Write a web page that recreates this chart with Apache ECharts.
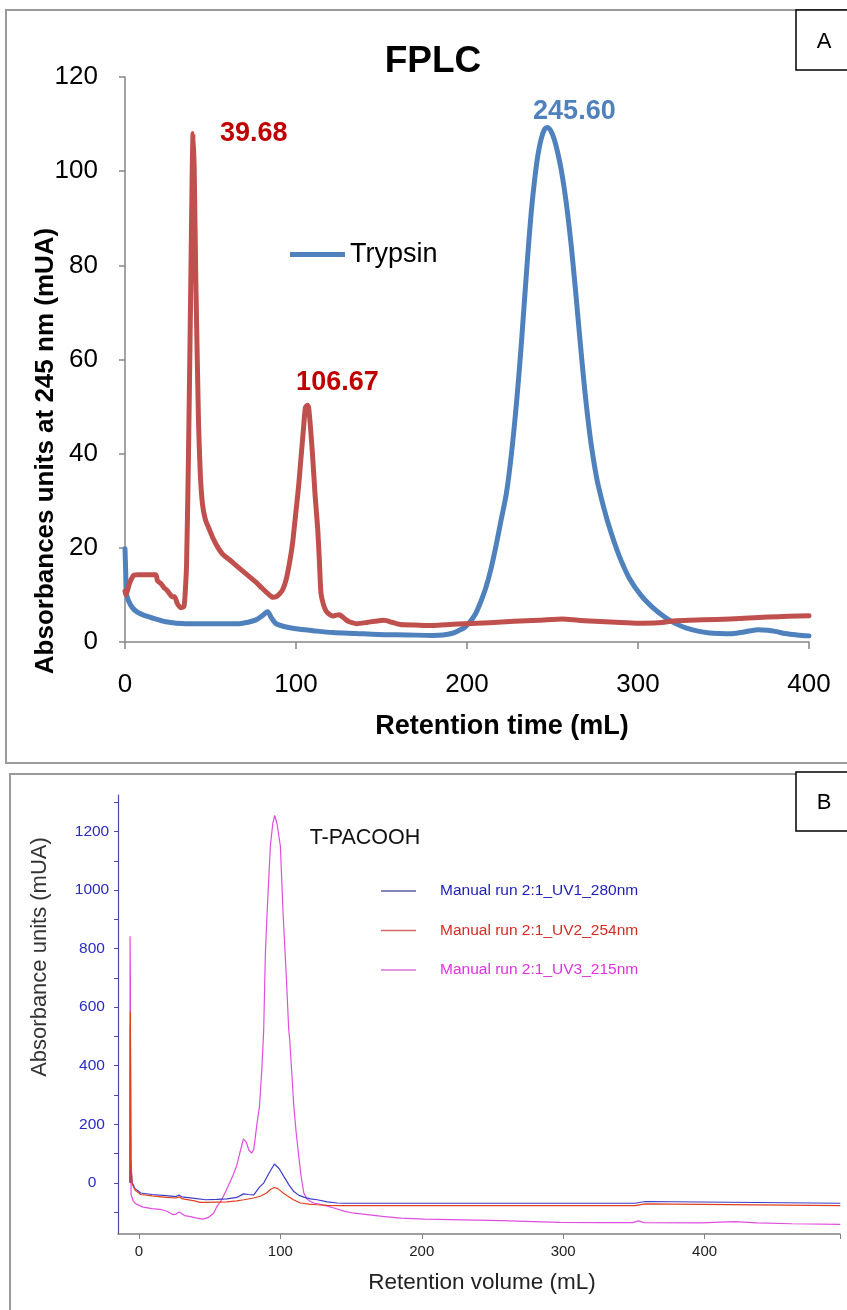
<!DOCTYPE html>
<html><head><meta charset="utf-8">
<script src="https://cdn.jsdelivr.net/npm/echarts@6/dist/echarts.min.js"></script>
<style>html,body{margin:0;padding:0;background:#fff}#c{width:847px;height:1310px}</style>
</head><body><div id="c"></div>
<script>
// ---------- Panel A (FPLC) ----------
const aXTicks = [0, 100, 200, 300, 400];
const aYTicks = [0, 20, 40, 60, 80, 100, 120];
const trypsin = [[0,19.8],[0.4,15],[0.8,10.4],[2,8.8],[4.3,7.3],[7,6.4],[10.2,5.8],[16,5.1],[23.8,4.3],[35.5,3.9],[53,3.9],[66.8,3.9],[72,4.2],[76.6,4.7],[80,5.5],[83.4,6.4],[85.5,5.2],[88.3,3.9],[93,3.3],[100,2.8],[110,2.4],[121.5,2.0],[135,1.8],[148,1.6],[165,1.5],[180,1.4],[186,1.5],[191,1.8],[195,2.4],[199,3.2],[202,4.4],[205,6.0],[208,8.5],[211,11.5],[214,15.5],[217,20.5],[220,26],[223,31.5],[226,40],[229,51],[231.5,62],[233.5,72],[235.5,82],[237.5,91],[239.5,98],[241.5,103.5],[243.5,107],[245.5,109],[247,109.3],[249,108.6],[251,106.8],[253,104],[255,100.5],[257,96],[259,90.5],[261,84],[263,76.5],[265,68.5],[267,60.5],[269,53],[271,46.5],[273,41],[276,34.5],[280,28.5],[284,23.5],[289,18.3],[295,13.5],[302,9.8],[309,7.2],[316,5.2],[322,3.9],[328,3.0],[335,2.3],[342,1.9],[348,1.8],[354,1.75],[360,2.0],[366,2.4],[370,2.6],[376,2.5],[381,2.2],[386,1.8],[393,1.5],[400,1.3]];
const sample = [[0,10.8],[0.5,10],[1.5,11],[3,12.8],[5.3,14.2],[8,14.3],[12,14.3],[18,14.3],[19,13],[21,12.4],[22.9,11.5],[24.5,11],[25.8,10.4],[27.7,9.6],[29,9.6],[30.7,8.1],[32.6,7.3],[34,7.4],[34.6,7.7],[35.3,11],[36,16.4],[37.1,39],[38.5,77],[39.3,100],[39.8,108],[40.5,100],[41.4,77],[43,46.7],[44,36],[45.3,29.3],[47,26],[49.2,24],[51.5,22],[54.1,20.2],[57,18.7],[62,17.2],[66.8,15.7],[71.7,14.2],[76.6,12.7],[80.5,11.3],[84.4,10],[86.5,9.5],[88.3,9.6],[90.3,10.2],[92.2,11.1],[94.2,13.2],[96,16.4],[98,21],[100,27.8],[101.5,33],[102.9,39],[104.3,45],[105.5,49.8],[106.67,50.3],[107.4,49.8],[108.6,45],[109.8,39],[111.2,31],[112.7,24],[113.7,17],[114.6,10.4],[116,8],[117.6,6.6],[119.5,5.9],[121.5,5.5],[123.5,5.7],[125.4,5.8],[127.3,5.3],[129.3,4.7],[131.2,4.3],[135.6,3.9],[142,4.2],[146,4.4],[151.5,4.6],[156,4.2],[161,3.7],[170,3.6],[180,3.5],[190,3.7],[199,3.9],[213,4.1],[227.5,4.4],[242,4.6],[256,4.9],[265,4.6],[275,4.4],[287,4.2],[300,4.0],[312,4.1],[322.6,4.5],[338,4.7],[354,4.9],[365,5.1],[376,5.3],[388,5.45],[400,5.6]];
const redPeaks = [[39.68,108,'39.68'],[106.67,50.3,'106.67']];
const bluePeaks = [[247,109.3,'245.60']];

// ---------- Panel B (T-PACOOH) ----------
const bXLabels = [0, 100, 200, 300, 400];
const bXTicks = [0, 100, 200, 300, 400, 495.8];
const bYLabels = [0, 200, 400, 600, 800, 1000, 1200];
const bYTicks = [-100,0,100,200,300,400,500,600,700,800,900,1000,1100,1200,1300];
const uv1 = [[-6.3,0],[-6.1,540],[-5.8,60],[-4.8,0],[-2.8,-20],[1.2,-35],[9.2,-40],[19.2,-44],[26.2,-47],[28.2,-42],[30.2,-48],[39.2,-53],[47.2,-58],[55.2,-57],[62.2,-55],[69.2,-50],[73.9,-38],[77.2,-40],[81.2,-41],[85.2,-15],[88.2,-1],[92.2,35],[95.8,64],[99.2,48],[102.4,22],[106.2,-8],[109.5,-30],[113.2,-43],[116.6,-49],[121.2,-55],[126,-58],[133.2,-65],[140.2,-69],[145.2,-70],[250,-70],[351,-70],[352,-64],[358,-64],[359,-70],[496,-70]];
const uv2 = [[-6.3,0],[-6.1,585],[-5.8,80],[-4.8,-5],[-2.8,-25],[1.2,-40],[9.2,-45],[19.2,-50],[26.2,-52],[28.2,-48],[30.2,-54],[39.2,-62],[43.2,-67],[47.2,-67],[55.2,-66],[62.2,-65],[69.2,-62],[74.2,-58],[81.2,-52],[86.2,-45],[90.2,-35],[93.2,-22],[95.8,-16],[98.2,-20],[101.2,-32],[104.8,-44],[109.2,-58],[114.2,-69],[120.2,-73],[126,-75],[133.2,-77],[142.2,-78],[351,-78],[352,-72],[358,-72],[359,-78],[496,-78]];
const uv3 = [[-6.4,0],[-6.3,842],[-6.1,700],[-5.9,200],[-5.6,-40],[-4.3,-60],[-2.8,-70],[0.2,-78],[2.9,-83],[9.2,-88],[16.2,-92],[20.2,-98],[24.1,-109],[26.2,-107],[28.2,-100],[29.8,-104],[32.2,-112],[35.6,-115],[40.2,-120],[45.2,-124],[49.2,-118],[52.8,-104],[55.2,-80],[58.5,-58],[62.2,-20],[66.2,22],[69.2,60],[71.2,100],[73.9,150],[75.7,140],[77.7,112],[79.7,101],[81.2,115],[83.5,204],[85.2,260],[87,398],[88.2,523],[89.4,785],[90.6,922],[92.9,1150],[94.7,1230],[96,1255],[97.7,1225],[100,1150],[101.9,922],[104.3,694],[105.9,523],[106.6,489],[108,380],[109.5,261],[111.2,170],[113,90],[114.7,20],[116.6,-35],[118.7,-55],[121.2,-64],[123.7,-69],[128.2,-74],[133.2,-80],[139.2,-88],[144.9,-97],[152.2,-104],[161.5,-109],[172.2,-115],[185.2,-121],[202.2,-124],[220.2,-126],[256.2,-129],[297.2,-135],[327.2,-136],[349.2,-136],[353.2,-130],[357.2,-136],[397.2,-137],[421.2,-133],[437.2,-137],[461.7,-140],[496,-142]];
const bSeriesNames = ['Manual run 2:1_UV1_280nm','Manual run 2:1_UV2_254nm','Manual run 2:1_UV3_215nm'];

const FA = "'Liberation Sans',Arial,sans-serif";
const FB = "'Liberation Sans',Arial,sans-serif";

const chart = echarts.init(document.getElementById('c'), null, {renderer:'canvas'});
const peakMark = (list, color, offsets) => ({
  symbol:'circle', symbolSize:1, itemStyle:{color:'rgba(0,0,0,0)'},
  label:{show:true, position:'inside', color:color, fontFamily:FA, fontWeight:'bold', fontSize:27, formatter:p=>p.name},
  data: list.map((p,i)=>({coord:[p[0],p[1]], name:p[2], label:{offset:offsets[i]}}))
});
const txt = (x, y, text, size, extra) => Object.assign({type:'text', x:x, y:y,
  style:Object.assign({text:text, fontSize:size, fontFamily:FA, fill:'#000', align:'center', verticalAlign:'middle', textAlign:'center', textVerticalAlign:'middle'}, extra && extra.style)},
  extra && extra.el);

chart.setOption({
  animation:false,
  backgroundColor:'#fff',
  grid:[
    {left:125, top:77, width:684, height:565},
    {left:118, top:795, width:722, height:439}
  ],
  xAxis:[
    {type:'value', gridIndex:0, min:0, max:400, interval:100,
     axisLine:{lineStyle:{color:'#868686', width:1.5}},
     axisTick:{length:7, lineStyle:{color:'#868686', width:1.5}},
     axisLabel:{color:'#000', fontFamily:FA, fontSize:26, margin:30, formatter:v=>aXTicks.includes(v)?String(v):''},
     splitLine:{show:false}},
    {type:'value', gridIndex:1, min:-14.85, max:495.8,
     axisLine:{onZero:false, lineStyle:{color:'#808080', width:1.5}},
     axisTick:{length:5, customValues:bXTicks, lineStyle:{color:'#808080'}},
     axisLabel:{color:'#222', fontFamily:FB, fontSize:15, margin:10, customValues:bXLabels, formatter:v=>String(v)},
     splitLine:{show:false}}
  ],
  yAxis:[
    {type:'value', gridIndex:0, min:0, max:120, interval:20,
     axisLine:{show:true, lineStyle:{color:'#868686', width:1.5}},
     axisTick:{show:true, length:6, lineStyle:{color:'#868686', width:1.5}},
     axisLabel:{color:'#000', fontFamily:FA, fontSize:26, margin:27, formatter:v=>aYTicks.includes(v)?String(v):''},
     splitLine:{show:false}},
    {type:'value', gridIndex:1, min:-175, max:1325,
     axisLine:{show:true, onZero:false, lineStyle:{color:'#4848b0', width:1.2}},
     axisTick:{show:true, length:4, customValues:bYTicks, lineStyle:{color:'#4848b0'}},
     axisLabel:{color:'#2a2ac0', fontFamily:FB, fontSize:15.5, margin:26, align:'center', customValues:bYLabels, formatter:v=>String(v)},
     splitLine:{show:false}}
  ],
  legend:[
    {data:[{name:'Trypsin', icon:'rect'}], left:290, top:241, padding:0, itemWidth:55, itemHeight:5, itemGap:0,
     textStyle:{color:'#000', fontFamily:FA, fontSize:27}},
    {data:[
      {name:bSeriesNames[0], icon:'rect', itemStyle:{color:'#5b5ba6'}, textStyle:{color:'#1c1cb8'}},
      {name:bSeriesNames[1], icon:'rect', itemStyle:{color:'#d46a6a'}, textStyle:{color:'#d62a22'}},
      {name:bSeriesNames[2], icon:'rect', itemStyle:{color:'#d672d6'}, textStyle:{color:'#e030e0'}}],
     orient:'vertical', left:381, top:883, padding:0, itemWidth:35, itemHeight:1.5, itemGap:23.5,
     textStyle:{fontFamily:FB, fontSize:15.5, padding:[0,0,0,19]}}
  ],
  graphic:[
    {type:'rect', shape:{x:6, y:10, width:860, height:753}, style:{fill:'none', stroke:'#9a9a9a', lineWidth:2}},
    {type:'rect', shape:{x:796, y:10, width:60, height:60}, style:{fill:'#fff', stroke:'#000', lineWidth:1.5}},
    txt(824, 42, 'A', 22),
    txt(433, 62, 'FPLC', 37, {style:{fontWeight:'bold'}}),
    txt(502, 727, 'Retention time (mL)', 27, {style:{fontWeight:'bold'}}),
    txt(46, 451, 'Absorbances units at 245 nm (mUA)', 26, {style:{fontWeight:'bold'}, el:{rotation:Math.PI/2}}),

    {type:'rect', shape:{x:10, y:774, width:860, height:560}, style:{fill:'none', stroke:'#9a9a9a', lineWidth:2}},
    {type:'rect', shape:{x:796, y:772, width:60, height:59}, style:{fill:'#fff', stroke:'#000', lineWidth:1.5}},
    txt(824, 803, 'B', 22),
    txt(365, 838, 'T-PACOOH', 21.5, {style:{fontFamily:FB, fill:'#111'}}),
    txt(482, 1283, 'Retention volume (mL)', 22.5, {style:{fontFamily:FB, fill:'#222'}}),
    txt(40, 957, 'Absorbance units (mUA)', 22, {style:{fontFamily:FB, fill:'#333'}, el:{rotation:Math.PI/2}})
  ],
  series:[
    {name:'Sample', type:'line', xAxisIndex:0, yAxisIndex:0, data:sample, showSymbol:false, symbol:'none', smooth:0.2,
     lineStyle:{color:'#c0504d', width:5, join:'round', cap:'round'}, itemStyle:{color:'#c0504d'}, z:3,
     markPoint: peakMark(redPeaks, '#c00000', [[61,0],[30,-23]])},
    {name:'Trypsin', type:'line', xAxisIndex:0, yAxisIndex:0, data:trypsin, showSymbol:false, symbol:'none', smooth:0.3,
     lineStyle:{color:'#4f81bd', width:5, join:'round', cap:'round'}, itemStyle:{color:'#4f81bd'}, z:2,
     markPoint: peakMark(bluePeaks, '#4f81bd', [[27,-16]])},
    {name:bSeriesNames[2], type:'line', xAxisIndex:1, yAxisIndex:1, data:uv3, showSymbol:false, symbol:'none',
     lineStyle:{color:'#e04ee0', width:1.2}, itemStyle:{color:'#e04ee0'}},
    {name:bSeriesNames[0], type:'line', xAxisIndex:1, yAxisIndex:1, data:uv1, showSymbol:false, symbol:'none',
     lineStyle:{color:'#3c3cc8', width:1.2}, itemStyle:{color:'#3c3cc8'}},
    {name:bSeriesNames[1], type:'line', xAxisIndex:1, yAxisIndex:1, data:uv2, showSymbol:false, symbol:'none',
     lineStyle:{color:'#e0401e', width:1.2}, itemStyle:{color:'#e0401e'}}
  ]
});
</script></body></html>
